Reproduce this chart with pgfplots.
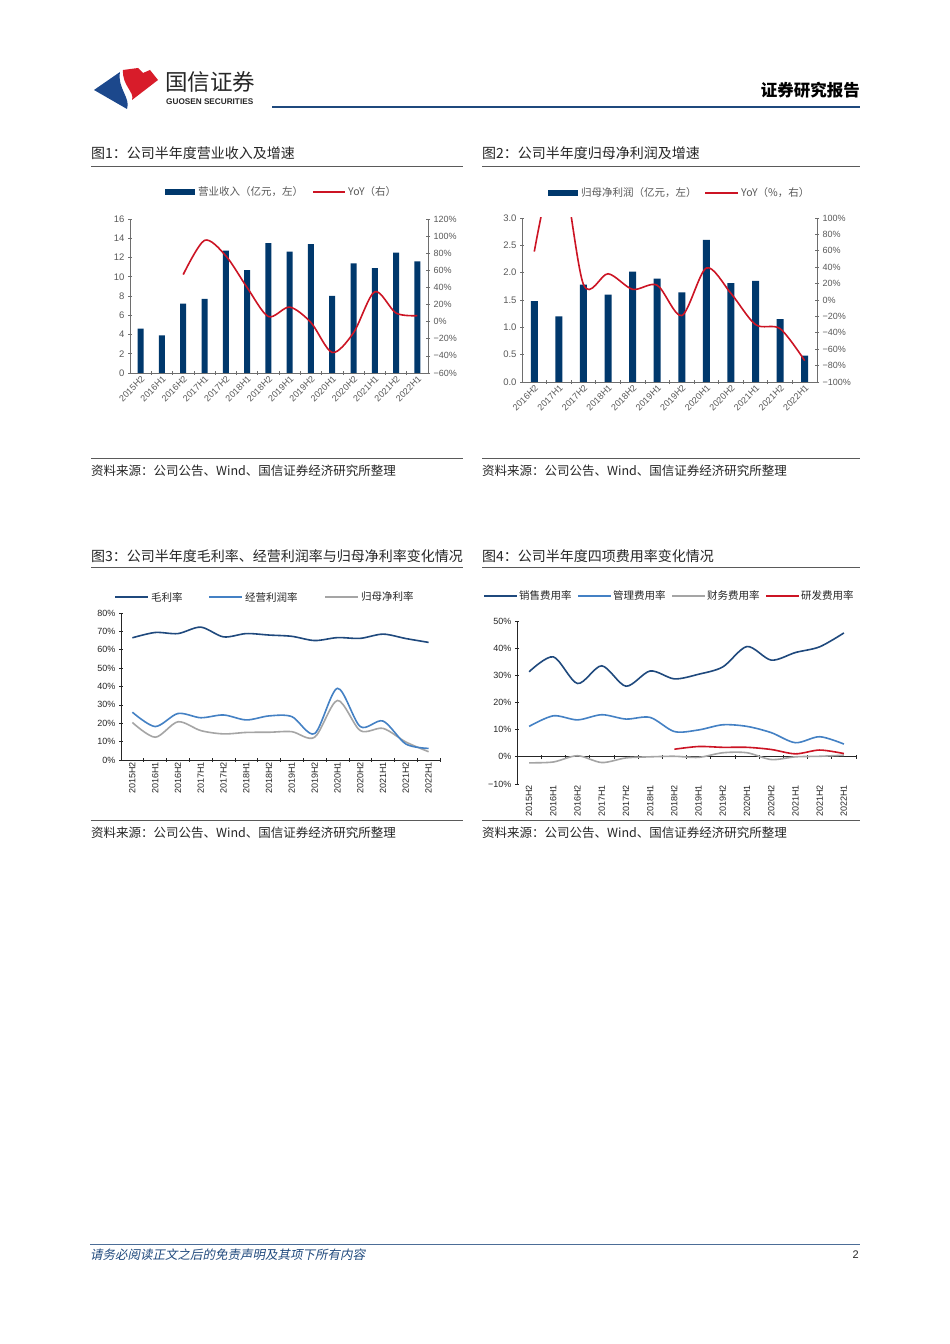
\documentclass[border=0pt]{standalone}
\usepackage{pgfplots}
\pgfplotsset{compat=1.18}
\usepackage{fontspec}
\setmainfont{Liberation Sans}
\newfontfamily\cjk{Noto Sans CJK SC}
\newfontfamily\cjkit[FakeSlant=0.2]{Noto Sans CJK SC}
\definecolor{navy}{RGB}{0,56,108}
\definecolor{yoyred}{RGB}{204,20,36}
\definecolor{dblue}{RGB}{31,73,125}
\definecolor{mblue}{RGB}{68,129,196}
\definecolor{lgray}{RGB}{165,165,165}
\definecolor{axgray}{RGB}{110,110,110}
\definecolor{txgray}{RGB}{89,89,89}
\definecolor{txdark}{RGB}{38,38,38}
\definecolor{logoblue}{RGB}{28,72,140}
\definecolor{logored}{RGB}{216,28,42}
\definecolor{rulegray}{RGB}{90,90,90}
\pgfplotsset{
  base/.style={scale only axis, anchor=south west,
    tick align=outside, major tick length=4pt,
    /pgf/number format/assume math mode=true},
  cat1/.style={extra x tick labels={2015H2,2016H1,2016H2,2017H1,2017H2,2018H1,2018H2,2019H1,2019H2,2020H1,2020H2,2021H1,2021H2,2022H1}},
  cat2/.style={extra x tick labels={2016H2,2017H1,2017H2,2018H1,2018H2,2019H1,2019H2,2020H1,2020H2,2021H1,2021H2,2022H1}},
}
\begin{document}
\begin{tikzpicture}[x=1pt,y=1pt]
\fill[white] (0,0) rectangle (950,1344);
\useasboundingbox (0,0) rectangle (950,1344);
% ---------- header ----------
\fill[logoblue] (120,1272) -- (94,1254) -- (127,1235) .. controls (131,1246) and (117,1256) .. cycle;
\fill[logored] (123,1274) .. controls (122,1258) and (135,1252) .. (132,1244) -- (158,1264) -- (150,1274) -- (143,1271) -- (138,1276) -- cycle;
\node[anchor=west, inner sep=0pt, text=txdark] at (165,1262) {\cjk\fontsize{22.5}{22.5}\selectfont 国信证券};
\node[anchor=west, inner sep=0pt, text=txdark] at (166,1242) {\fontsize{8.2}{8.2}\selectfont\bfseries GUOSEN SECURITIES};
\draw[dblue, line width=2.2pt] (272,1237) -- (860,1237);
\node[anchor=east, inner sep=0pt, text=black] at (860,1254) {\cjk\bfseries\fontsize{16.5}{16.5}\selectfont 证券研究报告};
% ---------- titles and rules ----------
\node[anchor=west, inner sep=0pt, text=txdark] at (91,1191) {\cjk\fontsize{14}{14}\selectfont 图1：公司半年度营业收入及增速};
\node[anchor=west, inner sep=0pt, text=txdark] at (482,1191) {\cjk\fontsize{14}{14}\selectfont 图2：公司半年度归母净利润及增速};
\draw[rulegray, line width=0.8pt] (91,1178) -- (463,1178);
\draw[rulegray, line width=0.8pt] (482,1178) -- (860,1178);
\draw[rulegray, line width=0.8pt] (91,886) -- (463,886);
\draw[rulegray, line width=0.8pt] (482,886) -- (860,886);
\node[anchor=west, inner sep=0pt, text=txdark] at (91,873) {\cjk\fontsize{12.5}{12.5}\selectfont 资料来源：公司公告、Wind、国信证券经济研究所整理};
\node[anchor=west, inner sep=0pt, text=txdark] at (482,873) {\cjk\fontsize{12.5}{12.5}\selectfont 资料来源：公司公告、Wind、国信证券经济研究所整理};
\node[anchor=west, inner sep=0pt, text=txdark] at (91,788) {\cjk\fontsize{14}{14}\selectfont 图3：公司半年度毛利率、经营利润率与归母净利率变化情况};
\node[anchor=west, inner sep=0pt, text=txdark] at (482,788) {\cjk\fontsize{14}{14}\selectfont 图4：公司半年度四项费用率变化情况};
\draw[rulegray, line width=0.8pt] (91,777) -- (463,777);
\draw[rulegray, line width=0.8pt] (482,777) -- (860,777);
\draw[rulegray, line width=0.8pt] (91,524) -- (463,524);
\draw[rulegray, line width=0.8pt] (482,524) -- (860,524);
\node[anchor=west, inner sep=0pt, text=txdark] at (91,511) {\cjk\fontsize{12.5}{12.5}\selectfont 资料来源：公司公告、Wind、国信证券经济研究所整理};
\node[anchor=west, inner sep=0pt, text=txdark] at (482,511) {\cjk\fontsize{12.5}{12.5}\selectfont 资料来源：公司公告、Wind、国信证券经济研究所整理};
% ---------- footer ----------
\draw[dblue!80, line width=0.9pt] (90,100) -- (860,100);
\node[anchor=west, inner sep=0pt, text=dblue] at (90,89) {\cjkit\fontsize{12.5}{12.5}\selectfont 请务必阅读正文之后的免责声明及其项下所有内容};
\node[anchor=east, inner sep=0pt, text=txdark] at (859,89) {\fontsize{11}{11}\selectfont 2};
% ---------- legends ----------
\fill[navy] (165,1149) rectangle (195,1155);
\node[anchor=west, inner sep=0pt, text=txgray] at (198,1152) {\cjk\fontsize{10.5}{10.5}\selectfont 营业收入（亿元，左）};
\draw[yoyred, line width=1.6pt] (313,1152) -- (345,1152);
\node[anchor=west, inner sep=0pt, text=txgray] at (348,1152) {\cjk\fontsize{10.5}{10.5}\selectfont YoY（右）};
\fill[navy] (548,1148) rectangle (578,1154);
\node[anchor=west, inner sep=0pt, text=txgray] at (581,1151) {\cjk\fontsize{10.5}{10.5}\selectfont 归母净利润（亿元，左）};
\draw[yoyred, line width=1.6pt] (705,1151) -- (738,1151);
\node[anchor=west, inner sep=0pt, text=txgray] at (741,1151) {\cjk\fontsize{10.5}{10.5}\selectfont YoY（\%，右）};
\draw[dblue, line width=1.8pt] (115,747) -- (148,747);
\node[anchor=west, inner sep=0pt, text=txdark] at (151,747) {\cjk\fontsize{10.5}{10.5}\selectfont 毛利率};
\draw[mblue, line width=1.8pt] (209,747) -- (242,747);
\node[anchor=west, inner sep=0pt, text=txdark] at (245,747) {\cjk\fontsize{10.5}{10.5}\selectfont 经营利润率};
\draw[lgray, line width=1.8pt] (325,747) -- (358,747);
\node[anchor=west, inner sep=0pt, text=txdark] at (361,747) {\cjk\fontsize{10.5}{10.5}\selectfont 归母净利率};
\draw[dblue, line width=1.8pt] (484,748) -- (517,748);
\node[anchor=west, inner sep=0pt, text=txdark] at (519,748) {\cjk\fontsize{10.5}{10.5}\selectfont 销售费用率};
\draw[mblue, line width=1.8pt] (578,748) -- (611,748);
\node[anchor=west, inner sep=0pt, text=txdark] at (613,748) {\cjk\fontsize{10.5}{10.5}\selectfont 管理费用率};
\draw[lgray, line width=1.8pt] (672,748) -- (705,748);
\node[anchor=west, inner sep=0pt, text=txdark] at (707,748) {\cjk\fontsize{10.5}{10.5}\selectfont 财务费用率};
\draw[yoyred, line width=1.8pt] (766,748) -- (799,748);
\node[anchor=west, inner sep=0pt, text=txdark] at (801,748) {\cjk\fontsize{10.5}{10.5}\selectfont 研发费用率};
% ---------- chart 1 ----------
\begin{axis}[base, cat1, at={(130pt,971pt)}, width=298pt, height=154pt,
  xmin=-0.5, xmax=13.5, ymin=0, ymax=16,
  axis x line=bottom, axis y line=left,
  axis line style={axgray, line width=0.8pt, -}, tick style={axgray, line width=0.7pt},
  ytick={0,2,...,16}, yticklabels={0,2,4,6,8,10,12,14,16},
  yticklabel style={font=\fontsize{9.5}{9.5}\selectfont, text=txgray},
  xtick={0.5,1.5,...,12.5}, xticklabels={},
  extra x ticks={0,...,13},
  extra x tick style={major tick length=0pt, tick label style={rotate=45, anchor=north east, inner sep=1.5pt, font=\fontsize{9}{9}\selectfont, text=txgray}},
]
\addplot[ybar, bar width=6pt, fill=navy, draw=none] coordinates {
(0,4.6) (1,3.9) (2,7.2) (3,7.7) (4,12.7) (5,10.7) (6,13.5) (7,12.6) (8,13.4) (9,8.0) (10,11.4) (11,10.9) (12,12.5) (13,11.6)};
\end{axis}
\begin{axis}[base, at={(130pt,971pt)}, width=298pt, height=154pt,
  xmin=-0.5, xmax=13.5, ymin=-60, ymax=120,
  axis x line=none, axis y line=right,
  axis line style={axgray, line width=0.8pt, -}, tick style={axgray, line width=0.7pt},
  ytick={-60,-40,...,120}, yticklabels={−60\%,−40\%,−20\%,0\%,20\%,40\%,60\%,80\%,100\%,120\%},
  yticklabel style={font=\fontsize{9}{9}\selectfont, text=txgray},
]
\addplot[yoyred, line width=1.6pt, smooth] coordinates {
(2,55) (3,95) (4,77) (5,40) (6,6) (7,17) (8,-1) (9,-36) (10,-13) (11,35) (12,10) (13,7)};
\end{axis}
% ---------- chart 2 ----------
\begin{axis}[base, cat2, at={(522pt,962pt)}, width=295pt, height=164pt,
  xmin=-0.5, xmax=11.5, ymin=0, ymax=3,
  axis x line=bottom, axis y line=left,
  axis line style={axgray, line width=0.8pt, -}, tick style={axgray, line width=0.7pt},
  ytick={0,0.5,...,3}, yticklabels={0.0,0.5,1.0,1.5,2.0,2.5,3.0},
  yticklabel style={font=\fontsize{9.5}{9.5}\selectfont, text=txgray},
  xtick={0.5,1.5,...,10.5}, xticklabels={},
  extra x ticks={0,...,11},
  extra x tick style={major tick length=0pt, tick label style={rotate=45, anchor=north east, inner sep=1.5pt, font=\fontsize{9}{9}\selectfont, text=txgray}},
]
\addplot[ybar, bar width=7pt, fill=navy, draw=none] coordinates {
(0,1.48) (1,1.20) (2,1.78) (3,1.60) (4,2.02) (5,1.89) (6,1.64) (7,2.60) (8,1.81) (9,1.85) (10,1.15) (11,0.48)};
\end{axis}
\begin{axis}[base, at={(522pt,962pt)}, width=295pt, height=164pt,
  xmin=-0.5, xmax=11.5, ymin=-100, ymax=100,
  axis x line=none, axis y line=right,
  axis line style={axgray, line width=0.8pt, -}, tick style={axgray, line width=0.7pt},
  ytick={-100,-80,...,100}, yticklabels={−100\%,−80\%,−60\%,−40\%,−20\%,0\%,20\%,40\%,60\%,80\%,100\%},
  yticklabel style={font=\fontsize{9}{9}\selectfont, text=txgray},
]
\addplot[yoyred, line width=1.6pt, smooth] coordinates {
(0,59) (1,175) (2,19) (3,32) (4,13) (5,18) (6,-19) (7,39) (8,8) (9,-30) (10,-35) (11,-74)};
\end{axis}
% ---------- chart 3 ----------
\begin{axis}[base, cat1, at={(121pt,584pt)}, width=319pt, height=147pt,
  xmin=-0.5, xmax=13.5, ymin=0, ymax=80,
  axis x line=bottom, axis y line=left,
  axis line style={txdark, line width=0.8pt, -}, tick style={txdark, line width=0.7pt},
  ytick={0,10,...,80}, yticklabels={0\%,10\%,20\%,30\%,40\%,50\%,60\%,70\%,80\%},
  yticklabel style={font=\fontsize{9}{9}\selectfont, text=txdark},
  xtick={0.5,1.5,...,13.5}, xticklabels={},
  extra x ticks={0,...,13},
  extra x tick style={major tick length=0pt, tick label style={rotate=90, anchor=east, inner sep=2pt, font=\fontsize{9}{9}\selectfont, text=txdark}},
]
\addplot[dblue, line width=1.6pt, smooth] coordinates {
(0,66.5) (1,69.4) (2,68.8) (3,72.3) (4,67.0) (5,68.8) (6,68.0) (7,67.3) (8,65.0) (9,66.6) (10,66.2) (11,68.5) (12,66.1) (13,64.0)};
\addplot[lgray, line width=1.6pt, smooth] coordinates {
(0,20.4) (1,12.4) (2,20.8) (3,16.0) (4,14.2) (5,15.0) (6,15.1) (7,15.4) (8,12.4) (9,32.4) (10,16.0) (11,17.2) (12,9.8) (13,4.5)};
\addplot[mblue, line width=1.6pt, smooth] coordinates {
(0,26.0) (1,18.2) (2,25.3) (3,23.0) (4,24.5) (5,21.8) (6,24.0) (7,23.6) (8,14.4) (9,39.0) (10,18.2) (11,21.2) (12,8.7) (13,6.3)};
\end{axis}
% ---------- chart 4 ----------
\begin{axis}[base, cat1, at={(517pt,560pt)}, width=339pt, height=163pt,
  xmin=-0.5, xmax=13.5, ymin=-10, ymax=50,
  axis x line=middle, axis y line=left,
  hide obscured x ticks=false, hide obscured y ticks=false,
  axis line style={txdark, line width=0.8pt, -}, tick style={txdark, line width=0.7pt},
  ytick={-10,0,...,50}, yticklabels={−10\%,0\%,10\%,20\%,30\%,40\%,50\%},
  yticklabel style={font=\fontsize{9}{9}\selectfont, text=txdark},
  xtick={0.5,1.5,...,13.5}, xticklabels={},
  xticklabel shift=26pt,
  extra x ticks={0,...,13},
  extra x tick style={major tick length=0pt, tick label style={rotate=90, anchor=east, inner sep=2pt, font=\fontsize{9}{9}\selectfont, text=txdark}},
]
\addplot[lgray, line width=1.6pt, smooth] coordinates {
(0,-2.2) (1,-1.9) (2,0.4) (3,-2.1) (4,-0.4) (5,0) (6,0.2) (7,-0.2) (8,1.5) (9,1.5) (10,-1.0) (11,0) (12,0.2) (13,0.6)};
\addplot[yoyred, line width=1.6pt, smooth] coordinates {
(6,2.8) (7,3.8) (8,3.5) (9,3.5) (10,2.7) (11,1.1) (12,2.5) (13,1.2)};
\addplot[mblue, line width=1.6pt, smooth] coordinates {
(0,11.2) (1,15.1) (2,13.6) (3,15.5) (4,13.9) (5,14.5) (6,9.3) (7,9.9) (8,11.8) (9,11.2) (10,8.9) (11,5.2) (12,7.4) (13,4.7)};
\addplot[dblue, line width=1.6pt, smooth] coordinates {
(0,31.3) (1,36.8) (2,27.0) (3,33.5) (4,26.0) (5,31.6) (6,28.7) (7,30.4) (8,33.1) (9,40.6) (10,35.6) (11,38.4) (12,40.5) (13,45.6)};
\end{axis}
\end{tikzpicture}
\end{document}
